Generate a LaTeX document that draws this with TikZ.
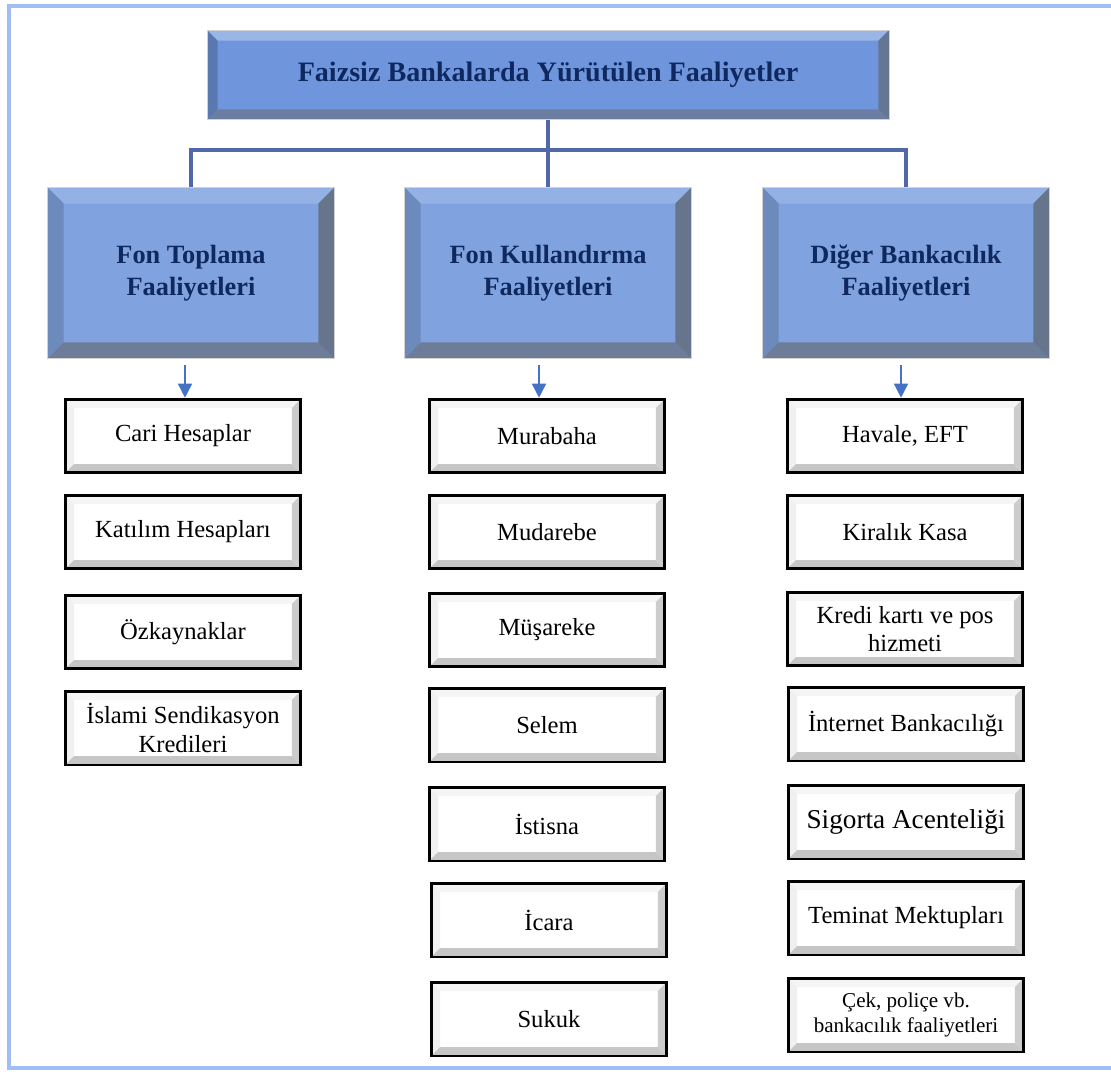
\documentclass[tikz,border=0pt]{standalone}
\usepackage{fontspec}
\setmainfont{Liberation Serif}
\usepackage{xcolor}
\definecolor{fbframe}{RGB}{160,190,245}
\definecolor{fbtop}{RGB}{111,150,220}
\definecolor{fbcol}{RGB}{128,163,223}
\definecolor{fbnavy}{RGB}{15,40,95}
\definecolor{fbline}{RGB}{80,104,168}
\definecolor{fbarrow}{RGB}{68,114,196}
\usetikzlibrary{arrows.meta, positioning, calc}

\tikzset{
  % four bevel strips inside a node: size, top, left, bottom, right
  bevel/.style n args={5}{
    path picture={
      \fill[#2] (path picture bounding box.north west) -- (path picture bounding box.north east)
        -- ([xshift=-#1,yshift=-#1]path picture bounding box.north east)
        -- ([xshift=#1,yshift=-#1]path picture bounding box.north west) -- cycle;
      \fill[#3] (path picture bounding box.north west) -- (path picture bounding box.south west)
        -- ([xshift=#1,yshift=#1]path picture bounding box.south west)
        -- ([xshift=#1,yshift=-#1]path picture bounding box.north west) -- cycle;
      \fill[#4] (path picture bounding box.south west) -- (path picture bounding box.south east)
        -- ([xshift=-#1,yshift=#1]path picture bounding box.south east)
        -- ([xshift=#1,yshift=#1]path picture bounding box.south west) -- cycle;
      \fill[#5] (path picture bounding box.north east) -- (path picture bounding box.south east)
        -- ([xshift=-#1,yshift=#1]path picture bounding box.south east)
        -- ([xshift=-#1,yshift=-#1]path picture bounding box.north east) -- cycle;
    }
  },
  headbox/.style={draw=gray!35, fill=fbtop, text=fbnavy, align=center,
    font=\fontsize{16}{18}\selectfont\bfseries, inner sep=0pt,
    bevel={6pt}{fbtop!70!white}{fbtop!80!black}{fbtop!55!gray!90!black}{fbtop!50!gray!85!black}},
  groupbox/.style={draw=gray!35, fill=fbcol, text=fbnavy, align=center,
    font=\fontsize{15}{18}\selectfont\bfseries, inner sep=0pt,
    minimum width=163pt, minimum height=97pt,
    bevel={9pt}{fbcol!85!white}{fbcol!85!black}{fbcol!55!gray!85!black}{fbcol!50!gray!80!black}},
  itembox/.style={draw=black, line width=1.6pt, fill=white, align=center,
    font=\fontsize{14}{16}\selectfont, inner sep=0pt,
    minimum width=134pt, minimum height=42pt,
    bevel={5pt}{gray!8}{gray!12}{gray!45}{gray!40}},
  conn/.style={fbline, line width=1.8pt},
  arr/.style={fbarrow, line width=0.9pt, -{Triangle[length=8pt,width=8pt]}}
}

\begin{document}
\begin{tikzpicture}[x=0.02cm, y=-0.02cm]
  \useasboundingbox (0,0) rectangle (1111,1071);
  \draw[fbframe, line width=2.6pt] (1111,6) -- (9,6) -- (9,1068) -- (1111,1068);

  % title and the three groups
  \node[headbox, minimum width=388pt, minimum height=51pt] (main) at (548,75)
    {Faizsiz Bankalarda Yürütülen Faaliyetler};
  \node[groupbox] (toplama) at (191,273) {Fon Toplama\\Faaliyetleri};
  \node[groupbox] (kullandirma) at (548,273) {Fon Kullandırma\\Faaliyetleri};
  \node[groupbox] (diger) at (906,273) {Diğer Bankacılık\\Faaliyetleri};

  \draw[conn] (main.south) -- (548,150);
  \draw[conn] (toplama.north) |- (548,150) -| (diger.north);
  \draw[conn] (548,150) -- (kullandirma.north);

  % fon toplama
  \node[itembox] (cari) at (183,436) {Cari Hesaplar};
  \node[itembox] (katilim) at (183,532) {Katılım Hesapları};
  \node[itembox] (ozkaynak) at (183,632) {Özkaynaklar};
  \node[itembox] (sendikasyon) at (183,728) {İslami Sendikasyon\\Kredileri};

  % fon kullandirma
  \node[itembox] (murabaha) at (547,436) {Murabaha};
  \node[itembox] (mudarebe) at (547,532) {Mudarebe};
  \node[itembox] (musareke) at (547,630) {Müşareke};
  \node[itembox] (selem) at (547,725) {Selem};
  \node[itembox] (istisna) at (547,824) {İstisna};
  \node[itembox] (icara) at (549,920) {İcara};
  \node[itembox] (sukuk) at (549,1019) {Sukuk};

  % diger
  \node[itembox] (havale) at (905,436) {Havale, EFT};
  \node[itembox] (kasa) at (905,532) {Kiralık Kasa};
  \node[itembox] (kredikarti) at (905,629) {Kredi kartı ve pos\\hizmeti};
  \node[itembox] (internet) at (906,724) {İnternet Bankacılığı};
  \node[itembox, font=\fontsize{15.5}{17}\selectfont] (sigorta) at (906,822) {Sigorta Acenteliği};
  \node[itembox] (teminat) at (906,918) {Teminat Mektupları};
  \node[itembox, font=\fontsize{12}{14}\selectfont] (cek) at (906,1015) {Çek, poliçe vb.\\bankacılık faaliyetleri};

  \coordinate (a1) at (185,365);
  \coordinate (a2) at (539,365);
  \coordinate (a3) at (901,365);
  \draw[arr] (a1) -- (a1 |- cari.north);
  \draw[arr] (a2) -- (a2 |- murabaha.north);
  \draw[arr] (a3) -- (a3 |- havale.north);
\end{tikzpicture}
\end{document}
